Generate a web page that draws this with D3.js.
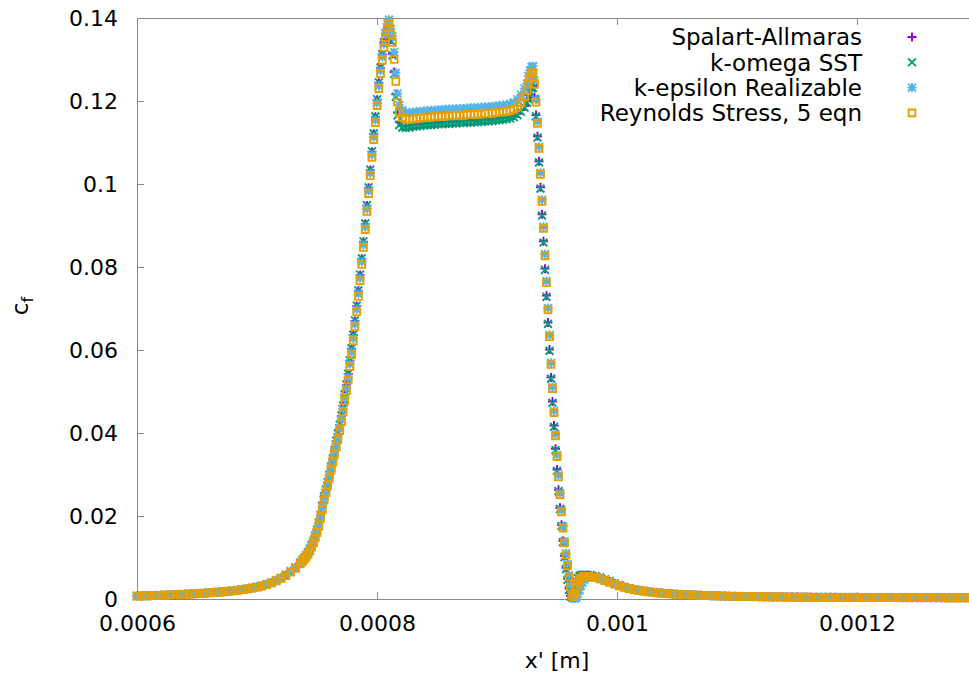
<!DOCTYPE html>
<html>
<head>
<meta charset="utf-8">
<script src="https://cdn.jsdelivr.net/npm/d3@7"></script>
<style>
  body { margin: 0; background: #fff; }
  text { font-family: "DejaVu Sans", sans-serif; fill: #000; }
</style>
</head>
<body>
<div id="chart"></div>
<script>
// ----------------------
// Data: wall position x' (micrometres) and skin friction cf (x 1e-3)
// ----------------------
const xMicron = [
  600,604,608,612,616,620,624,628,632,636,640,644,648,652,656,660,664,668,672,676,
  680,684,688,692,696,700,704,708,712,716,720,724,728,732,736,
  738,739.5,741,742.5,744,745.5,747,748.5,750,751.5,753,754.5,756,
  757.5,758.9,760.3,761.8,763.2,764.6,766.0,767.4,768.9,770.3,771.7,773.1,774.5,776.0,777.4,778.8,780.2,781.6,783.1,784.5,
  785.9,787.3,788.7,790.2,791.6,793.0,794.4,795.8,797.3,798.7,800.1,801.5,802.9,804.4,805.8,807.2,808.6,810.0,811.5,812.9,
  814.3,815.7,817.1,818.6,
  821,824,827,830,833,836,839,842,845,848,851,854,857,860,863,866,869,872,875,878,
  881,884,887,890,893,896,899,902,905,908,911,914,917,920,923,
  925,926.25,927.5,928.75,930,931.25,932.5,933.75,935,936.25,937.5,938.75,940,941.25,942.5,943.75,945,946.25,947.5,948.75,
  950,951.25,952.5,953.75,955,956.25,957.5,958.75,960,961.25,962.5,963.75,965,966.25,967.5,968.75,970,971.25,972.5,973.75,975,
  978,982,986,990,994,998,1002,1006,1010,1014,1018,1022,1026,1030,1034,1038,1042,1046,1050,1054,
  1058,1062,1066,1070,1074,1078,1082,1086,1090,1094,1098,1102,1106,1110,1114,1118,1122,1126,1130,1134,
  1138,1142,1146,1150,1154,1158,1162,1166,1170,1174,1178,1182,1186,1190,1194,1198,1202,1206,1210,1214,
  1218,1222,1226,1230,1234,1238,1242,1246,1250,1254,1258,1262,1266,1270,1274,1278,1282,1286,1290,1294,
  1298
];

const cfSA = [
  0.70,0.73,0.77,0.81,0.85,0.89,0.93,0.98,1.03,1.08,1.14,1.20,1.26,1.33,1.40,1.48,1.56,1.65,1.75,1.86,
  1.98,2.11,2.26,2.43,2.63,2.87,3.14,3.48,3.90,4.42,5.05,5.78,6.62,7.58,8.75,
  9.4,9.95,10.5,11.2,12.05,13.0,14.0,15.3,16.7,18.4,20.3,22.5,24.8,
  26.3,28.1,29.9,31.9,33.8,35.8,38.0,39.8,41.9,44.1,46.5,49.2,51.6,54.2,57.4,60.3,63.6,67.0,70.6,74.3,
  78.1,82.0,86.1,90.4,94.8,99.1,103.4,107.8,112.1,116.2,120.3,124.4,128.0,131.2,134.1,136.2,137.6,138.0,134.8,131.4,
  127.0,121.6,117.2,115.0,
  114.0,113.9,114.0,114.2,114.3,114.4,114.5,114.6,114.6,114.7,114.8,114.8,114.9,114.9,115.0,115.0,115.1,115.1,115.2,115.2,
  115.3,115.3,115.4,115.5,115.5,115.6,115.7,115.8,115.9,116.0,116.2,116.5,117.0,117.8,118.8,
  120.0,121.4,122.6,123.4,123.6,120.9,116.6,111.5,105.5,99.2,92.7,86.2,79.6,73.1,66.6,60.1,53.4,47.6,41.8,36.2,
  31.2,26.3,22.0,17.9,14.0,10.4,7.5,4.9,2.5,0.8,0.4,1.4,2.8,4.0,4.8,5.3,5.5,5.6,5.65,5.65,5.6,
  5.60,5.42,5.08,4.65,4.20,3.72,3.28,2.90,2.60,2.33,2.12,1.94,1.78,1.64,1.52,1.41,1.32,1.23,1.16,1.09,
  1.04,0.98,0.93,0.88,0.84,0.80,0.77,0.73,0.70,0.67,0.65,0.63,0.61,0.59,0.57,0.55,0.54,0.52,0.51,0.50,
  0.49,0.48,0.47,0.46,0.45,0.44,0.43,0.43,0.42,0.41,0.41,0.40,0.39,0.39,0.38,0.38,0.37,0.37,0.36,0.36,
  0.35,0.35,0.35,0.34,0.34,0.33,0.33,0.33,0.32,0.32,0.32,0.31,0.31,0.31,0.30,0.30,0.30,0.29,0.29,0.29,
  0.28
];

const cfKOmega = [
  0.71,0.74,0.77,0.81,0.85,0.89,0.93,0.98,1.03,1.08,1.14,1.20,1.26,1.33,1.40,1.48,1.56,1.65,1.75,1.86,
  1.98,2.11,2.26,2.43,2.63,2.87,3.14,3.48,3.90,4.42,5.05,5.78,6.62,7.58,8.75,
  9.4,9.95,10.5,11.2,12.05,13.0,14.0,15.3,16.7,18.4,20.3,22.5,24.8,
  26.4,28.2,30.0,32.0,33.9,35.9,38.2,39.9,42.0,44.2,46.6,49.3,51.7,54.3,57.5,60.4,63.7,67.1,70.7,74.4,
  78.2,82.1,86.2,90.5,94.9,99.2,103.5,107.9,112.2,116.3,120.4,124.5,128.1,131.3,134.2,136.3,137.5,137.8,134.5,131.0,
  126.5,121.0,116.5,114.2,
  113.6,113.5,113.6,113.8,113.9,114.0,114.1,114.2,114.2,114.3,114.4,114.4,114.5,114.5,114.6,114.6,114.7,114.7,114.8,114.8,
  114.9,114.9,115.0,115.1,115.1,115.2,115.3,115.4,115.5,115.6,115.8,116.1,116.6,117.4,118.4,
  119.6,121.0,122.2,123.0,123.2,120.5,116.3,111.2,105.2,98.9,92.4,85.9,79.3,72.8,66.3,59.8,53.1,47.3,41.5,35.9,
  30.9,26.0,21.7,17.6,13.7,10.1,7.2,4.6,2.2,0.6,0.4,1.6,3.0,4.2,5.0,5.5,5.7,5.8,5.85,5.85,5.8,
  5.75,5.55,5.20,4.75,4.30,3.80,3.35,2.95,2.65,2.38,2.15,1.96,1.80,1.66,1.53,1.42,1.33,1.24,1.17,1.10,
  1.04,0.98,0.93,0.88,0.84,0.80,0.77,0.73,0.70,0.67,0.65,0.63,0.61,0.59,0.57,0.55,0.54,0.52,0.51,0.50,
  0.49,0.48,0.47,0.46,0.45,0.44,0.43,0.43,0.42,0.41,0.41,0.40,0.39,0.39,0.38,0.38,0.37,0.37,0.36,0.36,
  0.35,0.35,0.35,0.34,0.34,0.33,0.33,0.33,0.32,0.32,0.32,0.31,0.31,0.31,0.30,0.30,0.30,0.29,0.29,0.29,
  0.28
];

const cfKEpsilon = [
  0.75,0.78,0.81,0.85,0.89,0.93,0.97,1.02,1.07,1.13,1.19,1.25,1.31,1.38,1.46,1.54,1.62,1.72,1.82,1.94,
  2.06,2.20,2.36,2.54,2.75,3.00,3.28,3.62,4.04,4.56,5.18,5.90,6.72,7.65,8.80,
  9.45,10.0,10.6,11.3,12.1,13.0,14.0,15.2,16.6,18.3,20.2,22.3,24.5,
  26.2,28.0,29.8,31.7,33.6,35.5,37.3,39.0,41.1,43.3,45.7,48.4,50.8,53.4,56.6,59.5,62.8,66.2,69.8,73.5,
  77.3,81.2,85.3,89.6,94.0,98.3,102.6,107.0,111.3,115.4,119.5,123.6,127.3,130.6,133.7,136.4,138.6,139.6,137.4,135.6,
  131.8,126.8,121.8,119.0,
  117.8,117.3,117.2,117.3,117.4,117.5,117.6,117.7,117.7,117.8,117.9,117.9,118.0,118.0,118.1,118.1,118.2,118.2,118.3,118.3,
  118.4,118.4,118.5,118.6,118.6,118.7,118.8,118.9,119.0,119.1,119.3,119.7,120.4,121.5,123.0,
  124.2,126.0,127.4,128.2,128.4,125.0,120.3,115.0,109.0,102.7,96.2,89.7,83.1,76.6,70.1,63.6,56.9,51.1,45.3,39.7,
  34.7,29.8,25.5,21.4,17.5,13.9,11.0,8.4,5.7,3.3,1.0,0.2,0.1,0.4,1.2,2.2,3.2,4.0,4.6,5.0,5.2,
  5.30,5.15,4.85,4.47,4.03,3.58,3.18,2.83,2.53,2.28,2.08,1.91,1.76,1.63,1.51,1.41,1.32,1.24,1.17,1.10,
  1.04,0.99,0.94,0.89,0.85,0.81,0.78,0.75,0.72,0.69,0.67,0.65,0.63,0.61,0.59,0.57,0.56,0.54,0.53,0.52,
  0.51,0.50,0.49,0.48,0.47,0.46,0.45,0.45,0.44,0.43,0.43,0.42,0.41,0.41,0.40,0.40,0.39,0.39,0.38,0.38,
  0.37,0.37,0.37,0.36,0.36,0.35,0.35,0.35,0.34,0.34,0.34,0.33,0.33,0.33,0.32,0.32,0.32,0.31,0.31,0.31,
  0.30
];

const cfRSM = [
  0.70,0.73,0.76,0.80,0.84,0.88,0.92,0.97,1.02,1.07,1.13,1.19,1.25,1.32,1.39,1.47,1.55,1.64,1.74,1.85,
  1.97,2.10,2.25,2.42,2.62,2.86,3.12,3.45,3.85,4.35,4.95,5.65,6.45,7.35,8.45,
  9.05,9.6,10.15,10.8,11.6,12.5,13.5,14.7,16.0,17.6,19.5,21.6,23.8,
  25.6,27.4,29.2,31.1,33.0,34.9,36.7,38.4,40.5,42.7,45.1,47.8,50.2,52.8,56.0,58.9,62.2,65.6,69.2,72.9,
  76.7,80.6,84.7,89.0,93.4,97.7,102.0,106.4,110.7,114.8,118.9,123.0,126.6,129.8,132.9,135.3,137.7,138.7,136.1,134.1,
  130.0,124.7,119.7,117.2,
  116.0,115.6,115.6,115.7,115.8,115.9,116.0,116.1,116.1,116.2,116.3,116.3,116.4,116.4,116.5,116.5,116.6,116.6,116.7,116.7,
  116.8,116.8,116.9,117.0,117.0,117.1,117.2,117.3,117.4,117.5,117.7,118.0,118.6,119.6,121.0,
  122.5,124.2,125.6,126.6,126.9,124.0,119.7,114.6,108.6,102.3,95.8,89.3,82.7,76.2,69.7,63.2,56.5,50.7,44.9,39.3,
  34.3,29.4,25.1,21.0,17.1,13.5,10.6,8.0,5.3,2.9,0.7,0.6,1.5,2.8,3.9,4.6,5.0,5.3,5.4,5.45,5.45,
  5.40,5.20,4.85,4.45,4.00,3.55,3.15,2.80,2.50,2.25,2.05,1.88,1.73,1.60,1.48,1.38,1.29,1.21,1.14,1.07,
  1.01,0.96,0.91,0.86,0.82,0.78,0.75,0.72,0.69,0.66,0.64,0.62,0.60,0.58,0.56,0.54,0.53,0.51,0.50,0.49,
  0.48,0.47,0.46,0.45,0.44,0.43,0.42,0.42,0.41,0.40,0.40,0.39,0.38,0.38,0.37,0.37,0.36,0.36,0.35,0.35,
  0.34,0.34,0.34,0.33,0.33,0.32,0.32,0.32,0.31,0.31,0.31,0.30,0.30,0.30,0.29,0.29,0.29,0.28,0.28,0.28,
  0.27
];

const seriesNames = ["Spalart-Allmaras", "k-omega SST", "k-epsilon Realizable", "Reynolds Stress, 5 eqn"];
const seriesValues = [cfSA, cfKOmega, cfKEpsilon, cfRSM];
const seriesColors = ["#9400d3", "#009e73", "#56b4e9", "#e69f00"];
const seriesSymbols = ["plus", "cross", "star", "square"];

const xTicks = [0.0006, 0.0008, 0.001, 0.0012];
const yTicks = [0, 0.02, 0.04, 0.06, 0.08, 0.1, 0.12, 0.14];

// ----------------------
// Layout
// ----------------------
const width = 969;
const height = 674;
const plot = { left: 137, right: 977, top: 18, bottom: 599 };
const borderColor = "#8a8a8a";

const svg = d3.select("#chart")
    .append("svg")
    .attr("width", width)
    .attr("height", height)
    .style("display", "block");

const x = d3.scaleLinear().domain([0.0006, 0.0013]).range([plot.left, plot.right]);
const y = d3.scaleLinear().domain([0, 0.14]).range([plot.bottom, plot.top]);

// Axes (ticks point inwards, mirrored on top/right)
const fmtX = d => String(+d.toFixed(4));
const fmtY = d => String(+d.toFixed(2));

function styleAxis(g) {
    g.select(".domain").remove();
    g.selectAll(".tick line").attr("stroke", borderColor);
    g.selectAll(".tick text")
        .attr("font-size", 22)
        .attr("font-family", "DejaVu Sans, sans-serif")
        .attr("fill", "#000");
}

svg.append("g")
    .attr("transform", `translate(0,${plot.bottom})`)
    .call(d3.axisBottom(x).tickValues(xTicks).tickFormat(fmtX).tickSize(-7).tickPadding(16))
    .call(styleAxis);

svg.append("g")
    .attr("transform", `translate(0,${plot.top})`)
    .call(d3.axisTop(x).tickValues(xTicks).tickFormat("").tickSize(-7))
    .call(styleAxis);

svg.append("g")
    .attr("transform", `translate(${plot.left},0)`)
    .call(d3.axisLeft(y).tickValues(yTicks).tickFormat(fmtY).tickSize(-7).tickPadding(19))
    .call(styleAxis);

svg.append("g")
    .attr("transform", `translate(${plot.right},0)`)
    .call(d3.axisRight(y).tickValues(yTicks).tickFormat("").tickSize(-7))
    .call(styleAxis);

// Border
svg.append("rect")
    .attr("x", plot.left + 0.5)
    .attr("y", plot.top + 0.5)
    .attr("width", plot.right - plot.left)
    .attr("height", plot.bottom - plot.top)
    .attr("fill", "none")
    .attr("stroke", borderColor)
    .attr("stroke-width", 1);

// Axis titles
svg.append("text")
    .attr("x", (plot.left + plot.right) / 2)
    .attr("y", 668)
    .attr("text-anchor", "middle")
    .attr("font-size", 22)
    .text("x' [m]");

const yTitle = svg.append("text")
    .attr("transform", "translate(28,306) rotate(-90)")
    .attr("text-anchor", "middle")
    .attr("font-size", 23);
yTitle.append("tspan").text("c");
yTitle.append("tspan").attr("font-size", 16).attr("dy", 5).text("f");

// Point symbols (gnuplot style)
function symbolPath(kind) {
    const s = 4.5, c = 3.9, h = 3.4;
    const plus = `M${-s},0H${s}M0,${-s}V${s}`;
    const cross = `M${-c},${-c}L${c},${c}M${-c},${c}L${c},${-c}`;
    if (kind === "plus") return plus;
    if (kind === "cross") return cross;
    if (kind === "star") return plus + cross;
    return `M${-h},${-h}H${h}V${h}H${-h}Z`;
}

// Draw series
seriesValues.forEach((vals, si) => {
    const pts = xMicron.map((xm, i) => ({ x: xm * 1e-6, y: vals[i] * 1e-3 }))
        .filter(d => !isNaN(d.y));
    svg.append("g")
        .selectAll("path")
        .data(pts)
        .enter()
        .append("path")
        .attr("d", symbolPath(seriesSymbols[si]))
        .attr("transform", d => `translate(${x(d.x)},${y(d.y)})`)
        .attr("fill", "none")
        .attr("stroke", seriesColors[si])
        .attr("stroke-width", 1.9);
});

// Legend
const legend = svg.append("g");
seriesNames.forEach((name, i) => {
    const ly = 37 + i * 25.3;
    legend.append("text")
        .attr("x", 862)
        .attr("y", ly)
        .attr("dy", "0.36em")
        .attr("text-anchor", "end")
        .attr("font-size", 23)
        .text(name);
    legend.append("path")
        .attr("d", symbolPath(seriesSymbols[i]))
        .attr("transform", `translate(912,${ly})`)
        .attr("fill", "none")
        .attr("stroke", seriesColors[i])
        .attr("stroke-width", 1.9);
});
</script>
</body>
</html>
